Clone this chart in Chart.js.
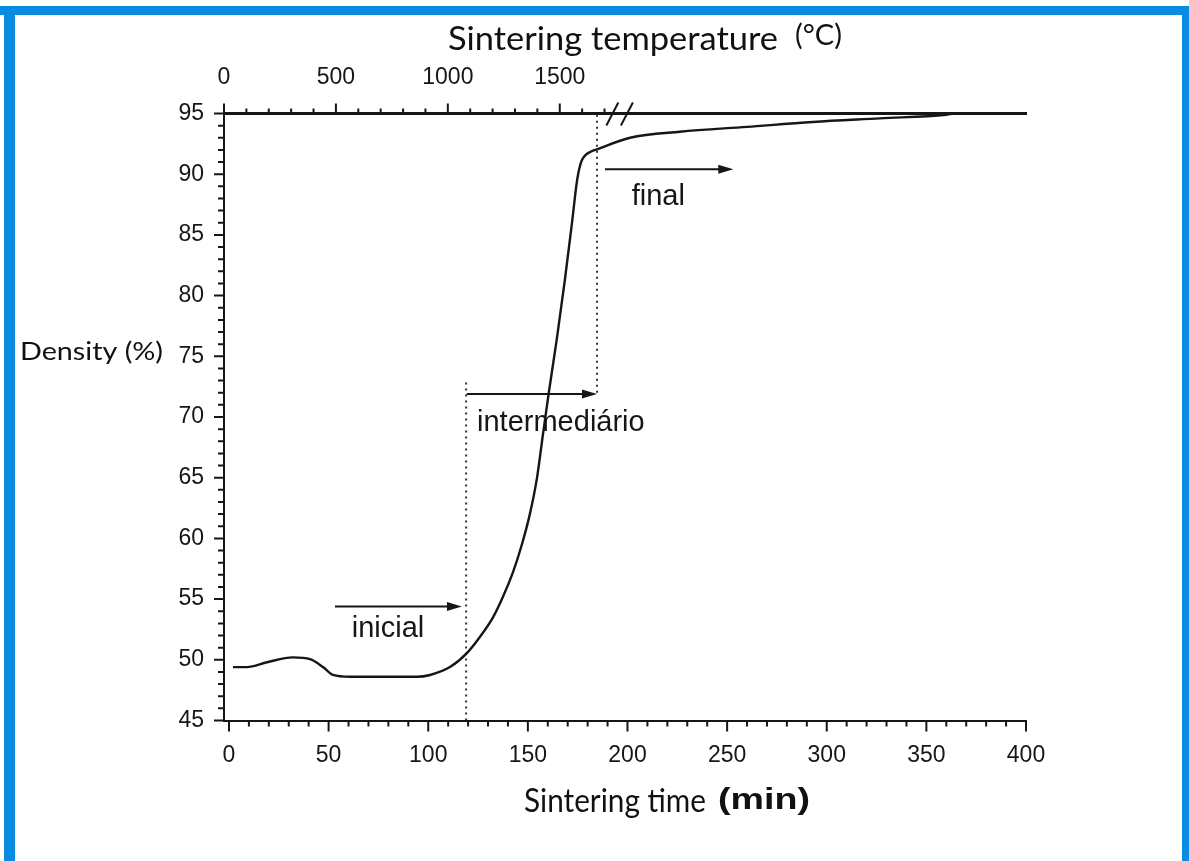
<!DOCTYPE html>
<html>
<head>
<meta charset="utf-8">
<title>Density x sintering time</title>
<script src="https://cdn.jsdelivr.net/npm/chart.js@4.4.1/dist/chart.umd.min.js"></script>
<style>
  html, body { margin: 0; padding: 0; background: #fff; }
  #wrap { position: relative; width: 1189px; height: 861px; }
</style>
</head>
<body>
<div id="wrap"><canvas id="myChart" width="1189" height="861"></canvas></div>
<script>
// curve: sintering time (min) vs density (%)
const curveTime = [2, 9, 19.1, 32.1, 40.7, 47.2, 52.2, 60.7, 77.3, 94.4, 100.9, 110.9, 119.4, 126, 132.5, 137.5, 142.5,
    147, 151, 154.5, 157.6, 160.5, 164.5, 168.5, 172, 174.8, 176.5, 178.5, 181.5, 184.7, 201.3, 226.3, 260, 293, 326.7, 360, 364];
const curveDensity = [49.4, 49.4, 49.8, 50.2, 50.05, 49.4, 48.75, 48.6, 48.6, 48.6, 48.75, 49.4, 50.55, 51.9, 53.5, 55.2, 57.2,
    59.5, 62.0, 64.9, 68.6, 72.0, 76.4, 81.2, 85.8, 89.6, 90.9, 91.5, 91.85, 92.05, 93.0, 93.5, 93.9, 94.3, 94.6, 94.9, 95];

const timeTicks = [0, 50, 100, 150, 200, 250, 300, 350, 400];
const densityTicks = [45, 50, 55, 60, 65, 70, 75, 80, 85, 90, 95];
const tempTicks = [0, 500, 1000, 1500];
const tempLastMinor = 1700;
const tempBreak = [1735, 1800];

// stage boundaries (dotted lines)
const boundaryTime = [119, 184.7];
const boundaryFrom = [45, 72];
const boundaryTo = [73, 95];

// stage arrows and their names
const stageNames = ['inicial', 'intermediário', 'final'];
const arrowFrom = [53.2, 119.3, 188.7];
const arrowTo = [116.9, 184.7, 253.1];
const arrowLevel = [54.4, 71.9, 90.4];
const labelTime = [61.6, 124.5, 202.1];
const labelLevel = [51.9, 68.85, 87.45];

const ink = '#161616';
const frameBlue = '#0a8be2';
const tickFont = { family: "'Liberation Sans', Arial, sans-serif", size: 23 };

function putText(ctx, txt, x, y, font, w) {
    ctx.save();
    ctx.font = font;
    const m = ctx.measureText(txt).width;
    ctx.translate(x, y);
    ctx.scale(w / m, 1);
    ctx.fillText(txt, 0, 0);
    ctx.restore();
}

const sketchPlugin = {
    id: 'sketch',
    beforeDraw(chart) {
        const ctx = chart.ctx;
        ctx.save();
        ctx.fillStyle = '#fff';
        ctx.fillRect(0, 0, chart.width, chart.height);
        ctx.fillStyle = frameBlue;
        ctx.fillRect(0, 6, chart.width, 9);
        ctx.fillRect(4, 6, 11, chart.height);
        ctx.fillRect(1182, 6, 7, chart.height);
        ctx.restore();
    },
    afterDraw(chart) {
        const ctx = chart.ctx;
        const x = chart.scales.x;
        const y = chart.scales.y;
        const xTop = chart.scales.xTop;
        const area = chart.chartArea;
        ctx.save();
        ctx.strokeStyle = ink;
        ctx.fillStyle = ink;
        ctx.lineWidth = 2;

        // tick marks (major + minor)
        ctx.beginPath();
        for (let v = 45; v <= 95; v++) {
            const py = y.getPixelForValue(v);
            const len = v % 5 === 0 ? 10 : 6;
            ctx.moveTo(area.left - len, py);
            ctx.lineTo(area.left, py);
        }
        for (let t = 0; t <= 400; t += 10) {
            const px = x.getPixelForValue(t);
            const len = t % 50 === 0 ? 11 : 6;
            ctx.moveTo(px, area.bottom);
            ctx.lineTo(px, area.bottom + len);
        }
        for (let T = 0; T <= tempLastMinor; T += 100) {
            const px = xTop.getPixelForValue(T);
            const len = T % 500 === 0 ? 10 : 5;
            ctx.moveTo(px, area.top);
            ctx.lineTo(px, area.top - len);
        }
        ctx.stroke();

        // axis break "//"
        ctx.beginPath();
        tempBreak.forEach(T => {
            const px = xTop.getPixelForValue(T);
            ctx.moveTo(px - 6, area.top + 12);
            ctx.lineTo(px + 6, area.top - 11);
        });
        ctx.stroke();

        // stage arrows
        for (let i = 0; i < stageNames.length; i++) {
            const x0 = x.getPixelForValue(arrowFrom[i]);
            const x1 = x.getPixelForValue(arrowTo[i]);
            const py = y.getPixelForValue(arrowLevel[i]);
            ctx.beginPath();
            ctx.moveTo(x0, py);
            ctx.lineTo(x1 - 10, py);
            ctx.stroke();
            ctx.beginPath();
            ctx.moveTo(x1, py);
            ctx.lineTo(x1 - 15, py - 4.5);
            ctx.lineTo(x1 - 15, py + 4.5);
            ctx.closePath();
            ctx.fill();

            ctx.font = "29px 'Liberation Sans', Arial, sans-serif";
            ctx.textAlign = 'left';
            ctx.textBaseline = 'alphabetic';
            ctx.fillText(stageNames[i], x.getPixelForValue(labelTime[i]), y.getPixelForValue(labelLevel[i]));
        }

        // axis titles
        ctx.fillStyle = '#111';
        ctx.textAlign = 'left';
        ctx.textBaseline = 'alphabetic';
        putText(ctx, 'Sintering temperature', 448, 50, "33px Lato, sans-serif", 330);
        putText(ctx, '(°C)', 795, 45, "28px Lato, sans-serif", 47);
        putText(ctx, 'Density (%)', 20, 360, "25px Lato, sans-serif", 143);
        putText(ctx, 'Sintering time', 524, 812, "32px Lato, sans-serif", 182);
        putText(ctx, '(min)', 718, 809, "bold 29px 'Liberation Sans', Arial, sans-serif", 92);
        ctx.restore();
    }
};

const datasets = [
    {
        label: 'Density',
        data: curveTime.map((t, i) => ({ x: t, y: curveDensity[i] })),
        borderColor: ink,
        borderWidth: 2.4,
        pointRadius: 0,
        cubicInterpolationMode: 'monotone',
        fill: false,
        order: 0
    }
];
boundaryTime.forEach((t, i) => {
    datasets.push({
        label: 'boundary ' + i,
        data: [{ x: t, y: boundaryFrom[i] }, { x: t, y: boundaryTo[i] }],
        borderColor: '#333',
        borderWidth: 2,
        borderDash: [2, 4],
        pointRadius: 0,
        fill: false,
        order: 1
    });
});

const plainLabel = v => String(v);

const ctx = document.getElementById('myChart').getContext('2d');
const myChart = new Chart(ctx, {
    type: 'line',
    data: { datasets: datasets },
    plugins: [sketchPlugin],
    options: {
        responsive: false,
        animation: false,
        devicePixelRatio: 1,
        layout: { padding: { left: 144, right: 163, top: 53.5, bottom: 80.5 } },
        plugins: { legend: { display: false }, tooltip: { enabled: false } },
        scales: {
            x: {
                type: 'linear',
                position: 'bottom',
                min: -2.5,
                max: 400,
                afterBuildTicks: s => { s.ticks = timeTicks.map(v => ({ value: v })); },
                afterFit: s => { s.height = 60; },
                grid: { display: false, drawTicks: false },
                border: { display: true, color: ink, width: 2 },
                ticks: { font: tickFont, color: ink, padding: 21, maxRotation: 0, autoSkip: false, callback: plainLabel }
            },
            xTop: {
                type: 'linear',
                axis: 'x',
                position: 'top',
                min: 0,
                max: 3583,
                afterBuildTicks: s => { s.ticks = tempTicks.map(v => ({ value: v })); },
                afterFit: s => { s.height = 60; },
                grid: { display: false, drawTicks: false },
                border: { display: true, color: ink, width: 3 },
                ticks: { font: tickFont, color: ink, padding: 22, maxRotation: 0, autoSkip: false, callback: plainLabel }
            },
            y: {
                type: 'linear',
                min: 45,
                max: 95,
                afterBuildTicks: s => { s.ticks = densityTicks.map(v => ({ value: v })); },
                afterFit: s => { s.width = 80; },
                grid: { display: false, drawTicks: false },
                border: { display: true, color: ink, width: 2 },
                ticks: { font: tickFont, color: ink, padding: 20, autoSkip: false, callback: plainLabel }
            }
        }
    }
});
</script>
</body>
</html>
